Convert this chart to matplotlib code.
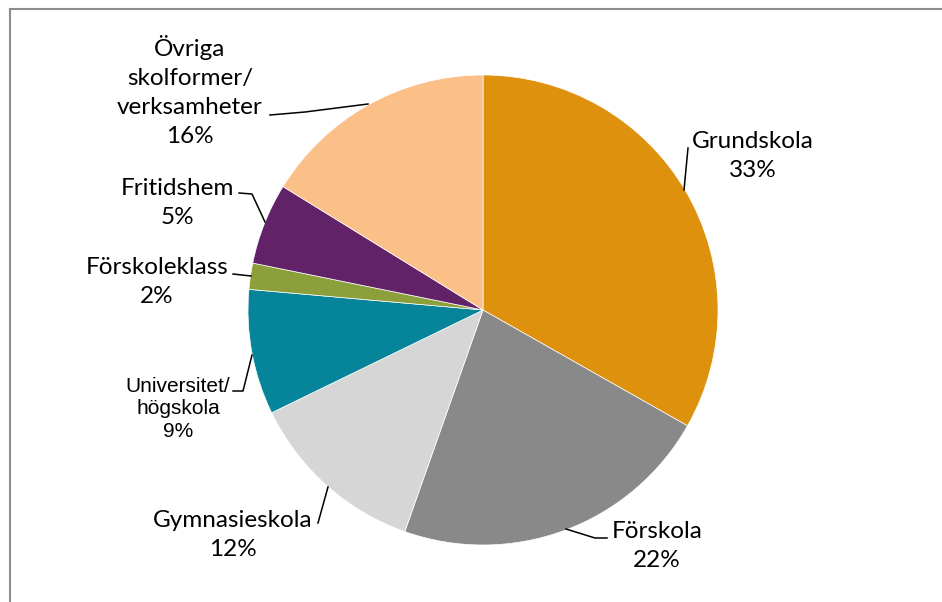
import matplotlib
matplotlib.use('Agg')
import matplotlib.pyplot as plt
from matplotlib.patches import Rectangle

# data
labels = ['Grundskola', 'Förskola', 'Gymnasieskola', 'Universitet/\nhögskola',
          'Förskoleklass', 'Fritidshem', 'Övriga\nskolformer/\nverksamheter']
values = [33.2, 22.2, 12.4, 8.6, 1.8, 5.6, 16.2]
pct_labels = ['33%', '22%', '12%', '9%', '2%', '5%', '16%']
colors = ['#DD910D', '#898989', '#D6D6D6', '#05849A', '#8BA03A', '#622268', '#FBBF88']

W, H = 942, 602
fig = plt.figure(figsize=(W / 100, H / 100), dpi=100)
ax = fig.add_axes([0, 0, 1, 1])

def Y(y):
    return H - y

# outer frame (only left and top edges visible)
fig.patches.append(Rectangle((10 / W, -0.5), 2, Y(9) / H + 0.5, transform=fig.transFigure,
                             fill=False, edgecolor='#8c8c8c', lw=1.5))

ax.pie(values, colors=colors, startangle=90, counterclock=False,
       center=(483, Y(310)), radius=235, frame=True,
       wedgeprops=dict(linewidth=0.5, edgecolor='white'))
ax.set_xlim(0, W)
ax.set_ylim(0, H)
ax.axis('off')

# label positions (text centre) and leader lines in pixel coords
pos = [(753, 156), (657, 546), (233, 535), (178, 409), (157, 282), (177, 203), (190, 91)]
leaders = [
    [(688, 148), (684, 190)],
    [(566, 529), (595, 538), (607, 538)],
    [(318, 523), (328, 487)],
    [(233, 391), (243, 391), (252, 355)],
    [(233, 274), (251, 276)],
    [(239, 193), (252, 194), (265, 222)],
    [(270, 115), (305, 112), (368, 104)],
]

for i in range(len(values)):
    txt = labels[i] + '\n' + pct_labels[i]
    x, y = pos[i]
    if i == 3:
        ax.text(x, Y(y), txt, ha='center', va='center', fontsize=15,
                family='Liberation Sans', linespacing=1.26)
    else:
        ax.text(x, Y(y), txt, ha='center', va='center', fontsize=17.5,
                family='Lato', linespacing=1.49)
    pts = leaders[i]
    ax.plot([p[0] for p in pts], [Y(p[1]) for p in pts], color='black', lw=1.1)

fig.savefig('out.png', dpi=100)
